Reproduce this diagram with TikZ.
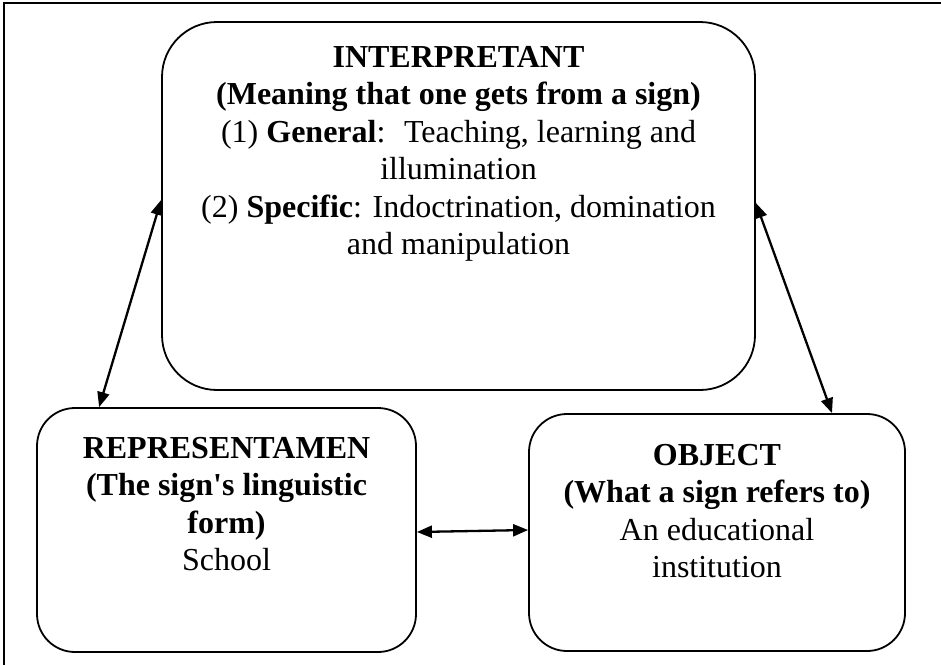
\documentclass[tikz,border=0pt]{standalone}
\usepackage{fontspec}
\setmainfont{Liberation Serif}[Ligatures=TeXOff]
\usepackage{tikz}
\usetikzlibrary{positioning,arrows.meta}

\begin{document}
\begin{tikzpicture}[x=1pt,y=-1pt,
  signbox/.style={draw,line width=1.8pt,inner sep=0pt},
  signtext/.style={inner sep=0pt,align=center,font=\fontsize{32}{37.5}\selectfont},
  link/.style={line width=2.3pt,{Triangle[length=15pt,width=12pt]}-{Triangle[length=15pt,width=12pt]}}]
\useasboundingbox (0,0) rectangle (941,664);
% outer frame (cut at right and bottom)
\draw[line width=2.6pt] (4,680) -- (4,3) -- (960,3);
% the three corners of the sign
\node[signbox,rounded corners=55pt,minimum width=593pt,minimum height=368pt] (interp) at (458.5,206) {};
\node[signbox,rounded corners=38pt,minimum width=379pt,minimum height=244pt] (rep) at (226.5,530) {};
\node[signbox,rounded corners=38pt,minimum width=376pt,minimum height=237pt] (obj) at (717,532.5) {};
\node[signtext,below=25pt of interp.north] (interpT) {\textbf{INTERPRETANT}\\
  \textbf{(Meaning that one gets from a sign)}\\
  (1) \textbf{General}:~ Teaching, learning and\\
  illumination\\
  (2) \textbf{Specific}: Indoctrination, domination\\
  and manipulation};
\node[signtext,below=30pt of rep.north] (repT) {\textbf{REPRESENTAMEN}\\
  \textbf{(The sign's linguistic}\\
  \textbf{form)}\\
  School};
\node[signtext,below=31pt of obj.north] (objT) {\textbf{OBJECT}\\
  \textbf{(What a sign refers to)}\\
  An educational\\
  institution};
% arrows
\draw[link] ([xshift=63pt]rep.north west) -- ([yshift=6pt]interp.west);
\draw[link] ([yshift=3pt]interp.east) -- ([xshift=115pt]obj.north);
\draw[link] ([yshift=-2pt]rep.east) -- ([yshift=2.5pt]obj.west);
\end{tikzpicture}
\end{document}
